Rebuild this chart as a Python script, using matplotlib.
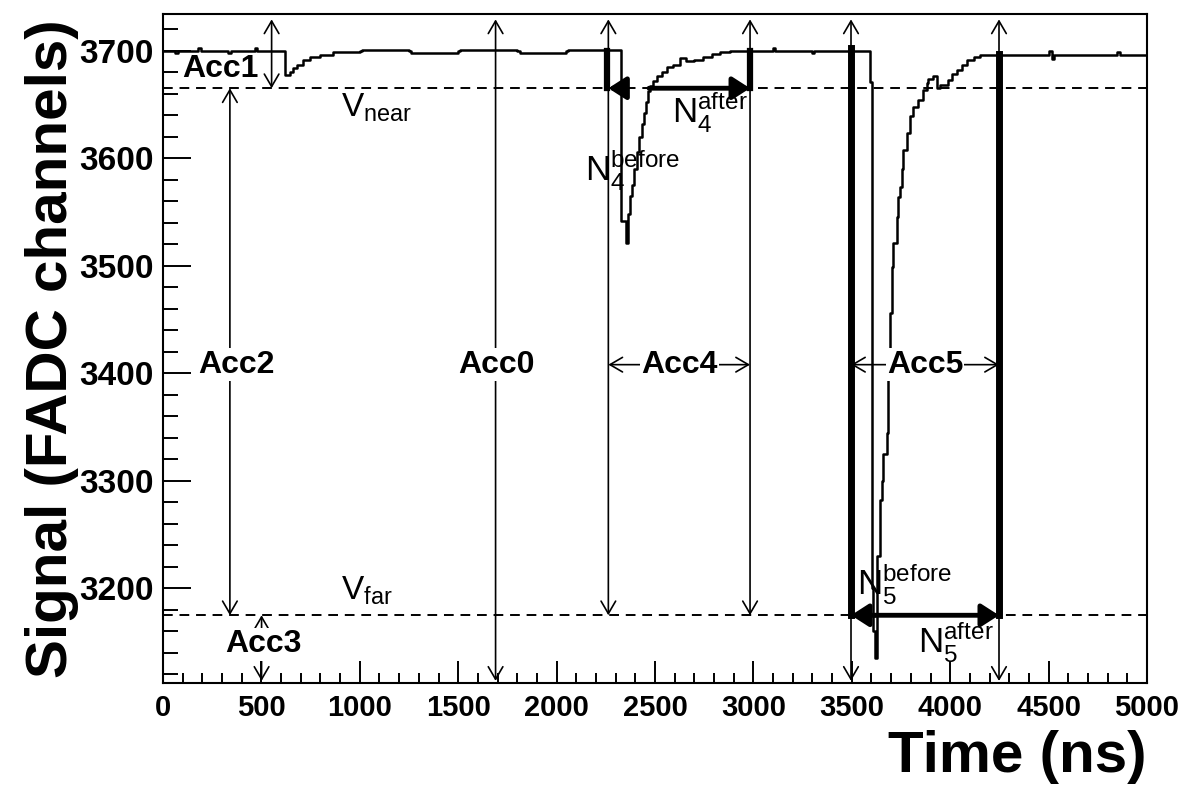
import matplotlib.pyplot as plt
from matplotlib.ticker import MultipleLocator

plt.rcParams['font.family'] = ['Liberation Sans', 'DejaVu Sans']
plt.rcParams['mathtext.fontset'] = 'custom'
plt.rcParams['mathtext.rm'] = 'Liberation Sans'
plt.rcParams['mathtext.it'] = 'Liberation Sans'
plt.rcParams['mathtext.bf'] = 'Liberation Sans:bold'

# FADC trace (time in ns, signal in channels), drawn as steps
t_ns = [0, 60, 75, 180, 195, 330, 345, 470, 480, 620, 645, 662, 679, 713, 747, 798, 865,
        1000, 1010, 1250, 1262, 1500, 1510, 1800, 1812, 2050, 2060, 2327, 2352, 2362,
        2372, 2381, 2392, 2407, 2420, 2432, 2442, 2452, 2462, 2475, 2491, 2510, 2534,
        2559, 2590, 2627, 2660, 2700, 2744, 2790, 2830, 2880, 3100, 3112, 3300, 3310,
        3592, 3601, 3610, 3618, 3630, 3643, 3652, 3660, 3677, 3686, 3694, 3703, 3711,
        3728, 3737, 3745, 3754, 3762, 3779, 3796, 3813, 3838, 3863, 3880, 3889, 3914,
        3931, 3948, 3965, 3990, 4010, 4033, 4060, 4084, 4120, 4151, 4500, 4515, 4530,
        4850, 4862, 5000]
signal = [3700, 3698, 3700, 3702, 3700, 3698, 3700, 3702, 3700, 3677, 3680, 3684, 3687,
          3691, 3694, 3696, 3699, 3700, 3701, 3700, 3698, 3700, 3701, 3700, 3698, 3700,
          3701, 3542, 3521, 3548, 3565, 3575, 3590, 3606, 3620, 3632, 3642, 3652, 3662,
          3667, 3672, 3676, 3680, 3685, 3687, 3693, 3690, 3691, 3694, 3697, 3699, 3700,
          3702, 3700, 3698, 3700, 3671, 3200, 3160, 3135, 3230, 3282, 3300, 3325, 3344,
          3400, 3456, 3499, 3521, 3545, 3564, 3573, 3590, 3608, 3623, 3639, 3648, 3654,
          3663, 3670, 3674, 3676, 3665, 3668, 3668, 3673, 3678, 3682, 3687, 3691, 3694,
          3696, 3700, 3692, 3696, 3699, 3696, 3696]

v_near = 3665
v_far = 3175
y_top = 3729
y_bot = 3114

# Acc window edges (ns)
acc0_t = 1690
acc1_t = 552
acc2_t = 340
acc3_t = 501
acc4_edges = [2263, 2983]
acc5_edges = [3496, 4248]
n4_cross = [2322, 2470]
n5_cross = 3618
n5_right_top = 3697

fig = plt.figure(figsize=(11.87, 7.87), dpi=100)
ax = fig.add_axes([0.1373, 0.1321, 0.829, 0.8501])

ax.step(t_ns, signal, where='post', color='black', lw=1.8, zorder=3)

ax.axhline(v_near, color='black', lw=1.4, ls=(0, (5, 3.5)), zorder=2)
ax.axhline(v_far, color='black', lw=1.4, ls=(0, (5, 3.5)), zorder=2)

thin = dict(arrowstyle='<->,head_length=0.6,head_width=0.35', lw=1.2, color='black',
            shrinkA=0, shrinkB=0, mutation_scale=15)
thick = dict(arrowstyle='-|>,head_length=0.7,head_width=0.45', lw=3.5, color='black',
             shrinkA=0, shrinkB=0, mutation_scale=15)


def arrow(x0, y0, x1, y1, props):
    ax.annotate('', xy=(x1, y1), xytext=(x0, y0), arrowprops=props, zorder=4)


box = dict(facecolor='white', edgecolor='none', pad=1)
lab = dict(fontsize=23, fontweight='bold', ha='center', va='center', zorder=6)

# thin measurement arrows
arrow(acc1_t, v_near, acc1_t, y_top, thin)
arrow(acc2_t, v_far, acc2_t, v_near, thin)
arrow(acc3_t, y_bot, acc3_t, v_far, thin)
arrow(acc0_t, y_bot, acc0_t, y_top, thin)
for t in acc4_edges:
    arrow(t, v_far, t, y_top, thin)
for t in acc5_edges:
    arrow(t, y_bot, t, y_top, thin)
arrow(acc4_edges[0], 3408, acc4_edges[1], 3408, thin)
arrow(acc5_edges[0], 3408, acc5_edges[1], 3408, thin)

ax.text(290, 3683, 'Acc1', **lab)
ax.text(371, 3408, 'Acc2', bbox=box, **lab)
ax.text(1697, 3408, 'Acc0', bbox=box, **lab)
ax.text(sum(acc4_edges) / 2, 3408, 'Acc4', bbox=box, **lab)
ax.text(sum(acc5_edges) / 2, 3408, 'Acc5', bbox=box, **lab)
ax.text(508, 3148, 'Acc3', bbox=box, **lab)

# thick N markers
ax.plot([acc4_edges[0] - 5, acc4_edges[0] - 5], [3700, v_near], color='black', lw=4.5, zorder=5)
ax.plot([acc4_edges[1], acc4_edges[1]], [3700, v_near], color='black', lw=4.5, zorder=5)
arrow(n4_cross[0], v_near, acc4_edges[0], v_near, thick)
arrow(n4_cross[1], v_near, acc4_edges[1], v_near, thick)
ax.plot([acc5_edges[0], acc5_edges[0]], [3702, v_far], color='black', lw=5, zorder=5)
ax.plot([acc5_edges[1], acc5_edges[1]], [n5_right_top, v_far], color='black', lw=5, zorder=5)
arrow(n5_cross, v_far, acc5_edges[0], v_far, thick)
arrow(n5_cross, v_far, acc5_edges[1], v_far, thick)

ax.text(905, 3647, r'$\mathregular{V_{near}}$', fontsize=24, va='center', zorder=6)
ax.text(905, 3198, r'$\mathregular{V_{far}}$', fontsize=24, va='center', zorder=6)
ax.text(2144, 3589, r'$\mathregular{N_4^{before}}$', fontsize=25, va='center', zorder=6)
ax.text(2586, 3643, r'$\mathregular{N_4^{after}}$', fontsize=25, va='center', zorder=6)
ax.text(3526, 3205, r'$\mathregular{N_5^{before}}$', fontsize=25, va='center', zorder=6)
ax.text(3836, 3151, r'$\mathregular{N_5^{after}}$', fontsize=25, va='center', zorder=6)

ax.set_xlim(0, 5000)
ax.set_ylim(3112, 3734)
ax.xaxis.set_major_locator(MultipleLocator(500))
ax.xaxis.set_minor_locator(MultipleLocator(100))
ax.yaxis.set_major_locator(MultipleLocator(100))
ax.yaxis.set_minor_locator(MultipleLocator(20))
ax.tick_params(axis='both', which='both', direction='in', width=1.4)
ax.tick_params(axis='x', which='major', length=16, pad=8, labelsize=21)
ax.tick_params(axis='x', which='minor', length=7)
ax.tick_params(axis='y', which='major', length=20, pad=7, labelsize=24)
ax.tick_params(axis='y', which='minor', length=11)
for lbl in ax.get_xticklabels() + ax.get_yticklabels():
    lbl.set_fontweight('bold')
for s in ax.spines.values():
    s.set_linewidth(1.5)

ax.set_xlabel('Time (ns)', fontsize=42, fontweight='bold', loc='right', labelpad=6)
ax.set_ylabel('Signal (FADC channels)', fontsize=42, fontweight='bold', labelpad=0)

fig.savefig('out.png', dpi=100)
